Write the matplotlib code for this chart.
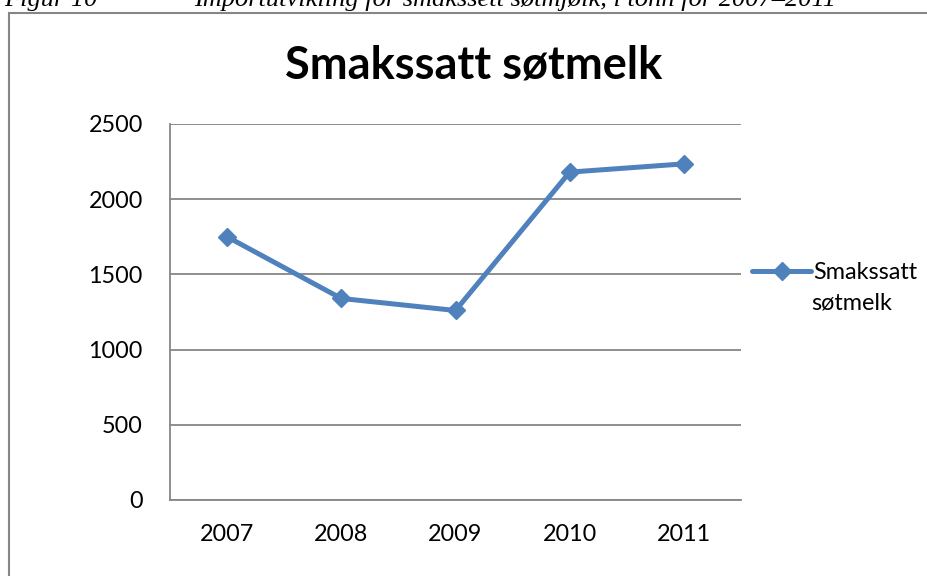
# -*- coding: UTF-8 -*-
import matplotlib
matplotlib.use('Agg')
import matplotlib.pyplot as plt
from matplotlib.patches import Rectangle

# data
years = ['2007', '2008', '2009', '2010', '2011']
tonn = [1750, 1340, 1260, 2180, 2235]
yticks = [0, 500, 1000, 1500, 2000, 2500]
series_name = 'Smakssatt søtmelk'

blue = '#4F81BD'
grey = '#868686'
fs = 16.8

fig = plt.figure(figsize=(9.27, 5.76), dpi=100)
ax = fig.add_axes([170/927, 1-500/576, 571/927, 376/576])

x = range(len(years))
line, = ax.plot(x, tonn, color=blue, lw=3.6, marker='D', markersize=9.5,
                solid_capstyle='round', label=series_name)

ax.set_xlim(-0.5, len(years)-0.5)
ax.set_ylim(0, 2500)
ax.set_yticks(yticks)
ax.set_xticks(list(x))
ax.set_xticklabels(years)
ax.yaxis.grid(True, color=grey, lw=1.3)
ax.set_axisbelow(True)
for s in ['top', 'right']:
    ax.spines[s].set_visible(False)
for s in ['left', 'bottom']:
    ax.spines[s].set_color(grey)
    ax.spines[s].set_linewidth(1.3)
ax.tick_params(length=0, labelsize=fs, colors='black', labelfontfamily='Lato')
ax.tick_params(axis='y', pad=19.5)
ax.tick_params(axis='x', pad=17.5)

fig.text(474/927, 1-66/576, series_name, ha='center', va='center',
         fontsize=32.5, fontweight='bold', family='Lato')

# legend (text wraps over two lines in the original)
lgd = fig.legend([line], ['Smakssatt'], loc='center left',
                 bbox_to_anchor=(743/927, 1-273/576), frameon=False,
                 prop={'family': 'Lato', 'size': fs}, handlelength=2.5,
                 handletextpad=0.1, borderaxespad=0)
fig.text(811/927, 1-303/576, 'søtmelk', ha='left', va='center',
         fontsize=fs, family='Lato')

# outer chart frame (cut off by the page)
fig.patches.append(Rectangle((9/927, -0.1), 1.2, 1.1 - 13/576,
                             transform=fig.transFigure, fill=False,
                             edgecolor=grey, lw=1.5))

# figure caption, cut at top of the page
fig.text(98/927, 1-6/576, 'Figur 10', ha='right', va='baseline',
         fontsize=19, style='italic', family='Liberation Serif')
fig.text(194/927, 1-6/576, 'Importutvikling for smakssett søtmjølk, i tonn for 2007–2011',
         ha='left', va='baseline', fontsize=19, style='italic', family='Liberation Serif')

plt.savefig('out.png', dpi=100)
